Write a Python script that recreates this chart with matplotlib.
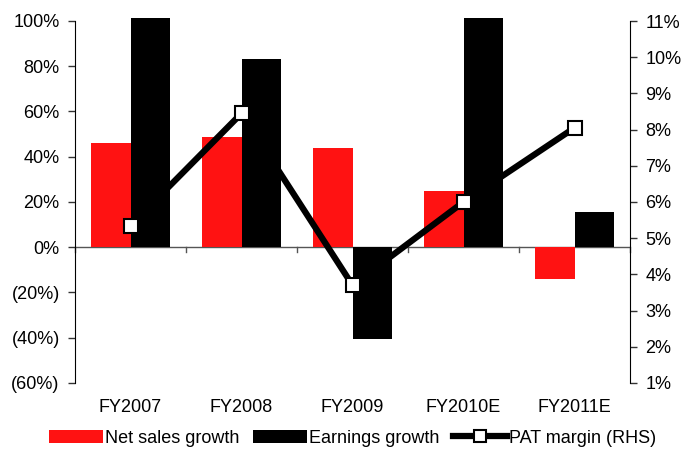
import matplotlib.pyplot as plt
import numpy as np
from matplotlib.ticker import FuncFormatter

plt.rcParams['font.family'] = ['Liberation Sans', 'DejaVu Sans']
plt.rcParams['font.size'] = 13

years = ["FY2007", "FY2008", "FY2009", "FY2010E", "FY2011E"]
sales_growth = [46, 48.5, 44, 25, -14]        # %
earnings_growth = [150, 83, -40.5, 150, 15.5]  # % (first and fourth run off the top)
pat_margin = [5.35, 8.45, 3.7, 6.0, 8.05]      # % RHS

x = np.arange(len(years))
w = 0.36

fig = plt.figure(figsize=(6.82, 4.5), dpi=100)
ax = fig.add_axes([0.11, 0.149, 0.8138, 0.811])
ax2 = ax.twinx()

ax.bar(x - w/2, sales_growth, w, color="#ff1212", label="Net sales growth", zorder=2)
ax.bar(x + w/2, earnings_growth, w, color="black", label="Earnings growth", zorder=2)
ax2.plot(x, pat_margin, color="black", lw=4.5, marker="s", ms=10.5, mfc="white",
         mec="black", mew=1.5, label="PAT margin (RHS)", zorder=3)

ax.set_xlim(-0.5, len(years) - 0.5)
ax.set_ylim(-60, 101.3)
ax.set_yticks(np.arange(-60, 101, 20))
ax.yaxis.set_major_formatter(FuncFormatter(lambda v, p: f"{v:.0f}%" if v >= 0 else f"({-v:.0f}%)"))
ax2.set_ylim(1, 11.083)
ax2.set_yticks(np.arange(1, 12, 1))
ax2.yaxis.set_major_formatter(FuncFormatter(lambda v, p: f"{v:.0f}%"))

for a in (ax, ax2):
    a.spines['top'].set_visible(False)
    a.spines['bottom'].set_visible(False)
    a.tick_params(axis='y', labelsize=13, length=5, width=1, pad=6, color="#333333")
ax.spines['left'].set_bounds(-60, 100)
ax2.spines['right'].set_bounds(1, 11)
ax2.spines['left'].set_visible(False)
ax.spines['right'].set_visible(False)

# zero line with category separator ticks
ax.axhline(0, color="#555555", lw=1, zorder=1)
ax.set_xticks([])
for b in np.arange(-0.5, len(years) - 0.4, 1):
    ax.plot([b, b], [0, -2], color="#555555", lw=1, clip_on=False, zorder=1)
for i, lab in enumerate(years):
    ax.annotate(lab, (i, 0), xycoords=("data", "axes fraction"), xytext=(0, -18),
                textcoords="offset points", ha="center", va="center", fontsize=13)

h1, l1 = ax.get_legend_handles_labels()
h2, l2 = ax2.get_legend_handles_labels()
fig.legend(h1 + h2, l1 + l2, loc="center", bbox_to_anchor=(0.517, 0.026), ncol=3,
           frameon=False, handlelength=3.0, handletextpad=0.1, columnspacing=0.75,
           fontsize=13, borderaxespad=0, borderpad=0, markerscale=0.85)

fig.savefig("out.png", dpi=100)
